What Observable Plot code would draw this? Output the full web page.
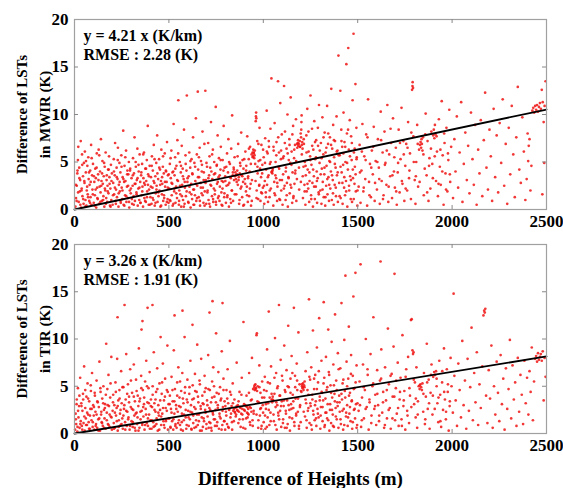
<!DOCTYPE html>
<html><head><meta charset="utf-8">
<script src="https://cdn.jsdelivr.net/npm/d3@7"></script>
<script src="https://cdn.jsdelivr.net/npm/@observablehq/plot@0.6"></script>
<style>
body{margin:0;background:#fff;}
#chart{width:563px;}
#chart svg{display:block;overflow:visible;}
</style></head><body><div id="chart"></div>
<script>
const xTicks=[0,500,1000,1500,2000,2500];
const yTicks=[0,5,10,15,20];
const bandNames=["MWIR","TIR"];
const slopes=[4.21,3.26];
const rmses=[2.28,1.91];
const xTitle="Difference of Heights (m)";

// MWIR panel points [height difference (m), LST difference (K)]
const mwir0=[[5,0.3],[8,1.2],[12,2.5],[15,3.8],[18,5.2],[20,6.6],[22,0.8],[25,4.4],[28,1.9],[30,3.1],[33,7.2],[35,0.2],[38,2.2],[40,5.8],[42,1.4],[45,3.5],[48,0.6],[50,4.9],[53,2.8],[55,6.1],[58,1.0],[60,3.9],[63,0.4],[65,2.0],[68,4.6],[70,1.6],[73,5.5],[75,3.2],[78,0.9],[80,2.6],[83,4.1],[85,1.3],[88,6.8],[90,0.5],[93,3.6],[95,2.1],[98,4.8],
[102,0.7],[105,2.9],[108,1.5],[110,4.3],[113,3.3],[115,0.2],[118,5.9],[120,2.3],[123,1.1],[125,3.7],[128,6.3],[130,0.6],[133,2.4],[135,4.0],[138,1.8],[140,7.4],[143,3.0],[145,0.9],[148,5.1],[150,2.7],[153,1.4],[155,3.5],[158,0.3],[160,4.5],[163,2.0],[165,6.0],[168,1.2],[170,3.1],[173,0.8],[175,2.5],[178,4.2],[180,1.7],[183,5.6],[185,3.4],[188,0.4],[190,2.2],[193,4.7],[195,1.0],[198,3.8],
[202,0.5],[205,2.8],[208,5.3],[210,1.6],[213,3.6],[215,7.0],[218,0.9],[220,2.1],[223,4.4],[225,1.3],[228,3.2],[230,6.5],[233,0.3],[235,2.6],[238,4.9],[240,1.9],[243,3.9],[245,0.7],[248,5.7],[250,2.3],[253,1.1],[255,3.4],[258,8.3],[260,0.5],[263,2.9],[265,4.6],[268,1.5],[270,3.0],[273,6.2],[275,0.8],[278,2.4],[280,4.1],[283,1.2],[285,3.7],[288,5.0],[290,0.2],[293,2.0],[295,4.3],[298,1.7],
[302,3.3],[305,0.6],[308,2.5],[310,5.4],[313,1.4],[315,3.8],[318,7.6],[320,0.9],[323,2.7],[325,4.5],[328,1.8],[330,3.1],[333,6.4],[335,0.4],[338,2.2],[340,4.0],[343,1.0],[345,5.8],[348,2.9],[350,0.7],[353,3.6],[355,1.5],[358,4.8],[360,2.4],[363,0.3],[365,3.3],[368,6.0],[370,1.2],[373,2.6],[375,4.3],[378,0.8],[380,3.0],[383,5.2],[385,1.9],[388,8.8],[390,3.7],[393,0.5],[395,2.1],[398,4.6],
[402,1.3],[405,3.4],[408,0.6],[410,5.6],[413,2.3],[415,4.1],[418,1.0],[420,6.8],[423,2.8],[425,0.4],[428,3.5],[430,1.7],[433,4.9],[435,2.5],[438,7.8],[440,0.8],[443,3.2],[445,1.4],[448,5.3],[450,2.0],[453,4.2],[455,0.3],[458,3.0],[460,6.3],[463,1.6],[465,2.7],[468,4.5],[470,0.9],[473,3.8],[475,1.2],[478,5.9],[480,2.4],[483,0.5],[485,4.0],[488,2.9],[490,7.1],[493,1.1],[495,3.6],[498,0.7]];
const mwir1=[[502,2.2],[505,4.8],[508,0.9],[510,3.3],[513,6.2],[515,1.5],[518,2.7],[520,0.4],[523,4.0],[525,9.0],[528,1.9],[530,3.6],[533,5.5],[535,0.7],[538,2.4],[540,4.6],[543,1.2],[545,7.3],[548,3.0],[550,11.5],[553,0.5],[555,2.0],[558,5.0],[560,1.6],[563,3.9],[565,0.3],[568,6.7],[570,2.6],[573,4.3],[575,1.0],[578,3.2],[580,8.4],[583,0.6],[585,2.3],[588,5.7],[590,1.4],[593,4.1],[595,12.0],[598,2.9],
[602,0.8],[605,3.5],[608,6.0],[610,1.8],[613,4.4],[615,0.2],[618,2.7],[620,5.3],[623,1.1],[625,3.7],[628,7.6],[630,0.5],[633,2.1],[635,4.9],[638,1.5],[640,3.0],[643,9.6],[645,0.9],[648,5.8],[650,2.5],[653,12.4],[655,4.2],[658,1.3],[660,3.4],[663,6.5],[665,0.4],[668,2.8],[670,5.1],[673,1.7],[675,4.7],[678,8.2],[680,2.3],[683,0.7],[685,3.9],[688,6.9],[690,1.9],[693,12.5],[695,3.1],[698,0.6],
[702,4.5],[705,2.0],[708,7.0],[710,1.0],[713,3.6],[715,5.6],[718,0.3],[720,2.6],[723,9.2],[725,4.0],[728,1.4],[730,3.2],[733,6.3],[735,0.8],[738,2.2],[740,5.0],[743,1.6],[745,3.8],[748,10.8],[750,0.5],[753,4.6],[755,2.7],[758,7.8],[760,1.2],[763,3.4],[765,5.4],[768,0.9],[770,2.4],[773,4.2],[775,6.6],[778,1.8],[780,3.0],[783,0.4],[785,5.2],[788,2.9],[790,8.8],[793,1.3],[795,4.4],[798,3.5],
[802,0.7],[805,2.5],[808,5.9],[810,1.5],[813,3.9],[815,7.4],[818,0.3],[820,2.8],[823,4.8],[825,1.1],[828,3.3],[830,6.4],[833,2.0],[835,9.9],[838,3.6],[840,0.9],[843,4.4],[845,3.1],[848,5.5],[850,3.5],[852,3.9],[855,3.2],[857,1.6],[860,3.7],[862,4.1],[865,2.6],[867,6.9],[870,3.4],[872,0.6],[875,3.8],[877,4.9],[880,2.2],[883,8.1],[885,3.6],[888,1.3],[890,5.2],[893,2.9],[895,4.3],[898,0.5],
[902,3.2],[905,6.1],[908,1.9],[910,4.6],[913,2.4],[915,7.7],[918,0.8],[920,3.5],[923,5.3],[925,1.4],[928,4.0],[930,6.6],[933,2.7],[935,0.4],[938,5.8],[940,3.1],[943,6.0],[945,5.6],[947,6.3],[950,5.9],[952,5.4],[955,6.2],[957,4.8],[960,9.3],[961,9.8],[962,10.2],[963,9.6],[965,2.0],[968,7.2],[970,3.8],[973,1.1],[975,5.1],[978,2.5],[980,8.6],[983,4.3],[985,0.9],[988,3.4],[990,6.8],[993,1.7],[995,4.7],[998,2.3]];
const mwir2=[[1002,5.5],[1005,0.6],[1008,3.0],[1010,7.5],[1013,1.8],[1015,4.2],[1018,10.4],[1020,2.6],[1023,5.9],[1025,0.8],[1028,3.6],[1030,6.6],[1033,1.3],[1035,4.8],[1038,8.5],[1040,2.2],[1043,13.8],[1045,4.0],[1048,3.8],[1050,4.3],[1053,0.4],[1055,6.2],[1058,2.9],[1060,9.1],[1063,1.5],[1065,5.0],[1068,3.3],[1070,7.1],[1073,0.9],[1075,2.4],[1078,13.5],[1080,4.5],[1083,6.0],[1085,1.1],[1088,3.1],[1090,11.2],[1093,5.3],[1095,2.0],[1098,7.9],
[1102,0.5],[1105,3.7],[1108,5.6],[1110,13.0],[1113,2.5],[1115,8.2],[1118,1.0],[1120,4.4],[1123,6.4],[1125,2.8],[1128,10.0],[1130,0.3],[1133,3.4],[1135,5.2],[1138,7.4],[1140,1.7],[1143,4.9],[1145,11.8],[1148,2.3],[1150,6.1],[1153,0.7],[1155,3.9],[1158,8.8],[1160,1.4],[1163,5.4],[1165,2.7],[1168,6.8],[1170,4.1],[1173,9.5],[1175,0.9],[1178,3.2],[1180,6.5],[1183,7.0],[1185,6.7],[1188,6.9],[1190,2.1],[1193,7.2],[1195,6.6],[1198,8.0],
[1200,7.6],[1201,8.4],[1202,9.2],[1203,9.9],[1204,6.8],[1206,7.1],[1208,6.4],[1210,1.2],[1213,4.5],[1215,6.9],[1218,2.6],[1220,5.0],[1223,0.5],[1225,3.6],[1228,7.8],[1230,1.9],[1233,10.6],[1235,4.2],[1238,2.2],[1240,6.1],[1243,0.8],[1245,3.0],[1248,5.6],[1250,12.0],[1253,1.5],[1255,4.7],[1258,8.5],[1260,2.8],[1263,0.3],[1265,6.3],[1268,3.5],[1270,9.3],[1273,1.1],[1275,5.3],[1278,2.4],[1280,7.3],[1283,4.0],[1285,0.7],[1288,3.3],[1290,6.7],[1293,1.8],[1295,11.0],[1298,4.9],
[1302,2.0],[1305,7.0],[1308,0.6],[1310,4.3],[1313,9.7],[1315,2.9],[1318,5.8],[1320,1.3],[1323,3.7],[1325,8.1],[1328,0.4],[1330,6.0],[1333,2.5],[1335,4.6],[1338,10.9],[1340,1.6],[1343,6.9],[1345,3.4],[1348,0.9],[1350,5.1],[1353,7.6],[1355,2.2],[1358,4.0],[1360,12.7],[1363,1.0],[1365,6.4],[1368,3.1],[1370,8.9],[1373,0.5],[1375,5.5],[1378,2.6],[1380,7.2],[1383,4.4],[1385,1.4],[1388,9.8],[1390,3.6],[1393,6.2],[1395,0.8],[1398,16.2],
[1402,2.8],[1405,5.7],[1408,12.5],[1410,1.2],[1413,8.4],[1415,3.9],[1418,6.6],[1420,0.6],[1423,4.7],[1425,10.2],[1428,2.3],[1430,7.1],[1433,1.5],[1435,5.0],[1438,3.0],[1440,15.3],[1443,8.0],[1445,0.3],[1448,4.2],[1450,17.0],[1453,6.3],[1455,2.0],[1458,9.4],[1460,3.5],[1463,1.1],[1465,7.7],[1468,5.2],[1470,0.8],[1473,11.5],[1475,3.3],[1478,18.5],[1480,6.0],[1483,2.7],[1485,4.5],[1488,13.2],[1490,1.9],[1493,8.6],[1495,5.5],[1498,0.4]];
const mwir3=[[1505,2.4],[1510,6.8],[1515,0.7],[1520,4.1],[1525,9.0],[1530,1.9],[1535,5.6],[1540,3.2],[1545,7.9],[1550,0.4],[1555,11.6],[1560,2.9],[1565,4.8],[1570,1.3],[1575,6.2],[1580,3.7],[1585,8.7],[1590,0.9],[1595,5.1],
[1602,2.1],[1607,7.4],[1612,4.4],[1617,0.6],[1622,10.3],[1627,3.0],[1632,6.0],[1637,1.5],[1642,8.2],[1647,4.9],[1652,2.6],[1657,11.0],[1662,0.8],[1667,5.8],[1672,3.5],[1677,7.0],[1682,1.2],[1687,9.6],[1692,4.0],[1697,2.3],
[1702,6.5],[1707,0.5],[1712,3.9],[1717,8.4],[1722,1.8],[1727,5.3],[1732,10.7],[1737,2.7],[1742,7.2],[1747,0.9],[1752,4.6],[1757,6.9],[1762,2.0],[1767,9.2],[1772,3.3],[1777,5.9],[1782,1.1],[1788,12.6],[1790,13.0],[1791,13.4],[1793,12.8],[1795,7.7],
[1802,3.1],[1806,0.6],[1810,5.0],[1815,8.9],[1820,2.4],[1825,6.3],[1830,6.8],[1833,7.1],[1836,6.5],[1838,7.4],[1840,6.9],[1843,6.2],[1846,7.6],[1850,1.5],[1855,4.3],[1860,10.1],[1865,3.6],[1870,7.2],[1875,0.9],[1880,5.4],[1885,2.2],[1890,8.2],[1895,4.8],
[1900,7.8],[1903,8.4],[1906,7.5],[1909,8.9],[1912,7.9],[1915,3.0],[1920,6.1],[1925,1.4],[1930,9.5],[1935,4.5],[1940,2.6],[1945,11.4],[1950,5.7],[1955,0.5],[1960,7.0],[1965,3.8],[1970,8.6],[1975,1.9],[1980,5.2],[1985,10.5],[1990,2.9],[1995,6.6]];
const mwir4=[[2005,1.2],[2012,7.4],[2018,4.0],[2025,9.8],[2032,2.3],[2040,6.0],[2048,11.3],[2055,0.8],[2062,4.8],[2070,8.1],[2078,3.1],[2085,6.7],[2092,1.7],[2100,10.2],[2108,5.3],[2115,2.6],[2122,8.9],[2130,0.5],[2138,6.3],[2145,3.8],[2152,9.4],[2160,1.4],[2168,7.3],[2175,12.3],[2182,4.4],[2190,2.1],[2198,8.4],[2205,5.6],[2212,0.9],[2220,10.6],[2228,3.4],[2236,7.8],[2244,1.8],[2252,9.1],[2260,4.9],[2268,11.6],[2276,2.5],[2284,6.9],[2292,0.6],[2300,8.6],[2308,3.7],[2316,10.9],[2324,5.8],[2332,1.3],[2340,7.6],[2348,12.9],[2356,4.2],[2364,2.8],[2372,9.7],[2380,6.1],[2388,1.0],[2395,3.2],[2400,8.0],[2403,5.1],[2406,6.7],[2410,7.4],[2415,2.0],[2420,4.6],[2425,10.4],[2430,10.7],[2435,10.2],[2440,10.9],[2445,10.5],[2450,11.0],[2455,10.3],[2460,10.8],[2465,11.2],[2470,10.6],[2475,12.6],[2480,11.3],[2485,9.2],[2490,10.9],[2495,13.5],[2478,1.6],[2488,4.9]];
const mwirCore=[[7,2.6],[11,0.9],[16,4.1],[19,1.8],[26,3.3],[31,0.5],[37,2.0],[41,4.7],[46,1.1],[52,3.0],[57,0.3],[61,5.1],[67,2.4],[72,1.3],[77,3.9],[82,0.7],[86,2.9],[91,5.4],[97,1.6],
[103,3.5],[107,0.4],[112,2.1],[117,4.4],[121,1.2],[127,3.1],[131,5.7],[137,0.8],[142,2.5],[146,3.8],[152,1.0],[157,4.9],[161,2.2],[166,0.6],[171,3.6],[176,1.9],[181,4.2],[186,2.7],[191,0.3],[196,3.0],
[204,1.5],[209,4.0],[214,2.3],[219,0.6],[224,3.4],[229,5.2],[234,1.7],[239,2.9],[244,0.9],[249,4.5],[254,2.0],[259,3.2],[264,0.4],[269,5.5],[274,1.4],[279,3.7],[284,2.5],[289,0.8],[294,4.1],[299,2.2],
[304,1.1],[309,3.6],[314,0.5],[319,2.7],[324,5.0],[329,1.6],[334,3.3],[339,4.7],[344,2.3],[349,0.7],[354,3.9],[359,1.9],[364,5.8],[369,2.8],[374,0.9],[379,4.3],[384,1.3],[389,2.6],[394,3.5],[399,0.5],
[404,2.4],[409,4.6],[414,1.2],[419,3.0],[424,5.3],[429,0.7],[434,2.1],[439,3.8],[444,1.8],[449,4.4],[454,2.6],[459,0.4],[464,3.4],[469,5.6],[474,1.5],[479,2.9],[484,4.1],[489,0.8],[494,2.3],[499,3.7],
[504,1.0],[509,5.4],[514,2.8],[519,3.9],[524,0.6],[529,2.2],[534,4.3],[539,1.7],[544,3.1],[549,5.9],[554,0.9],[559,2.5],[564,4.6],[569,1.4],[574,3.5],[579,0.3],[584,2.9],[589,4.8],[594,1.9],[599,3.3],
[604,0.7],[609,2.4],[614,5.1],[619,1.6],[624,3.8],[629,2.1],[634,0.5],[639,4.5],[644,2.7],[649,1.2],[654,3.4],[659,5.5],[664,0.9],[669,2.3],[674,4.0],[679,1.5],[684,3.1],[689,0.4],[694,2.8],[699,4.9],
[704,1.8],[709,3.3],[714,0.6],[719,4.4],[724,2.5],[729,5.8],[734,1.1],[739,3.7],[744,2.0],[749,0.8],[754,4.7],[759,2.9],[764,1.4],[769,3.6],[774,5.2],[779,0.5],[784,2.2],[789,4.1],[794,1.7],[799,3.0],
[804,4.5],[809,1.3],[814,2.6],[819,5.0],[824,3.4],[829,0.7],[834,2.0],[839,3.9],[844,4.2],[849,1.6],[854,3.6],[859,2.9],[864,5.6],[869,3.1],[874,1.0],[879,4.6],[884,2.4],[889,3.5],[894,0.4],[899,5.3],
[904,2.7],[909,4.1],[914,1.5],[919,3.3],[924,6.4],[929,2.2],[934,4.8],[939,0.9],[944,5.5],[949,6.0],[954,5.7],[959,3.0],[964,1.2],[969,4.5],[974,6.9],[979,2.6],[984,5.2],[989,1.8],[994,3.8],[999,6.3],
[1004,2.5],[1009,4.9],[1014,1.3],[1019,6.1],[1024,3.4],[1029,7.2],[1034,2.0],[1039,5.0],[1044,3.9],[1049,4.1],[1054,6.6],[1059,1.7],[1064,3.6],[1069,5.7],[1074,2.8],[1079,7.6],[1084,4.3],[1089,1.0],[1094,6.2],[1099,3.1],
[1104,5.4],[1109,2.2],[1114,7.0],[1119,4.0],[1124,1.5],[1129,5.9],[1134,3.3],[1139,6.8],[1144,2.6],[1149,4.7],[1154,7.9],[1159,1.2],[1164,6.3],[1169,3.8],[1174,5.1],[1179,6.9],[1184,7.3],[1189,4.4],[1194,6.6],[1199,2.9],
[1204,5.8],[1209,3.5],[1214,7.4],[1219,1.9],[1224,4.6],[1229,6.0],[1234,2.7],[1239,8.2],[1244,3.9],[1249,5.2],[1254,1.1],[1259,6.7],[1264,4.2],[1269,2.4],[1274,7.1],[1279,5.5],[1284,3.0],[1289,8.6],[1294,1.6],[1299,6.2],
[1304,3.7],[1309,5.4],[1314,2.1],[1319,7.6],[1324,4.4],[1329,1.3],[1334,6.5],[1339,3.2],[1344,8.0],[1349,2.6],[1354,5.0],[1359,6.8],[1364,3.6],[1369,1.7],[1374,7.3],[1379,4.8],[1384,2.3],[1389,6.1],[1394,3.9],[1399,5.7],
[1404,1.4],[1409,4.5],[1414,7.2],[1419,2.8],[1424,5.9],[1429,3.4],[1434,6.6],[1439,1.9],[1444,4.9],[1449,8.4],[1454,2.5],[1459,5.6],[1464,3.1],[1469,7.0],[1474,4.2],[1479,1.1],[1484,6.4],[1489,3.7],[1494,5.3],[1499,2.0],
[1512,3.9],[1522,6.1],[1532,2.3],[1542,5.2],[1552,7.6],[1562,1.5],[1572,4.4],[1582,6.6],[1592,2.8],[1604,5.0],[1614,3.2],[1624,7.3],[1634,1.1],[1644,4.7],[1654,6.2],[1664,2.4],[1674,8.5],[1684,3.6],[1694,5.5],[1704,1.9],[1714,4.9],[1724,7.0],[1734,3.0],[1744,5.8],[1754,2.2],[1764,6.5],[1774,4.1],[1784,8.1],[1797,5.0],[1808,3.5],[1818,6.9],[1828,2.9],[1848,5.8],[1858,7.9],[1868,1.8],[1878,4.6],[1888,6.4],[1898,3.3],[1908,5.6],[1918,7.7],[1928,2.7],[1938,6.3],[1948,4.0],[1958,8.0],[1968,2.1],[1978,5.9],[1988,3.7]];

// TIR panel points
const tir0=[[3,0.4],[6,2.1],[9,1.0],[12,3.6],[15,0.2],[18,4.8],[21,1.7],[24,2.9],[27,0.6],[30,5.9],[33,1.3],[36,3.2],[39,0.8],[42,2.4],[45,4.2],[48,1.1],[51,7.1],[54,0.3],[57,2.7],[60,1.6],[63,3.9],[66,0.9],[69,5.3],[72,2.0],[75,1.2],[78,3.4],[81,0.5],[84,2.6],[87,4.5],[90,1.4],[93,6.4],[96,0.7],[99,3.0],
[102,1.9],[105,0.4],[108,4.0],[111,2.3],[114,1.0],[117,5.6],[120,0.6],[123,3.3],[126,1.5],[129,2.8],[132,7.6],[135,0.3],[138,4.4],[141,2.0],[144,1.2],[147,3.7],[150,0.8],[153,5.0],[156,2.5],[159,1.6],[162,3.1],[165,0.5],[168,9.5],[171,2.2],[174,4.7],[177,1.0],[180,6.2],[183,2.9],[186,0.7],[189,3.8],[192,1.8],[195,8.1],[198,0.4],
[202,2.4],[205,4.1],[208,1.1],[211,3.0],[214,0.6],[217,5.4],[220,1.9],[223,2.7],[226,7.9],[228,12.3],[229,0.3],[232,3.5],[235,1.4],[238,4.6],[241,2.1],[244,0.9],[247,6.6],[250,3.2],[253,1.6],[256,0.5],[259,4.9],[262,2.6],[265,13.6],[268,1.2],[271,3.6],[274,8.4],[277,0.8],[280,2.3],[283,5.2],[286,1.7],[289,3.9],[292,0.4],[295,6.8],[298,2.8],
[302,1.3],[305,4.3],[308,0.7],[311,2.5],[314,7.3],[317,1.9],[320,3.4],[323,0.3],[326,5.7],[329,2.2],[332,1.0],[335,4.0],[338,2.9],[341,9.0],[344,0.6],[347,3.7],[350,1.5],[353,6.1],[355,11.0],[356,2.4],[359,0.9],[360,11.9],[362,4.6],[365,1.8],[368,3.1],[371,0.4],[374,5.5],[377,2.6],[380,7.7],[383,1.1],[386,3.3],[387,13.3],[389,0.8],[392,4.8],[395,2.0],[398,6.5],
[402,1.4],[405,3.6],[408,0.5],[411,2.8],[413,13.6],[414,5.0],[417,1.2],[420,8.6],[423,3.2],[426,0.8],[429,2.3],[432,4.4],[435,1.6],[438,6.9],[441,0.3],[444,3.0],[447,1.9],[450,5.3],[453,2.5],[456,10.2],[459,0.9],[462,4.2],[465,2.1],[468,7.4],[471,1.3],[474,3.5],[477,0.6],[480,5.8],[483,2.7],[486,1.5],[489,4.6],[492,9.3],[495,0.4],[498,3.1]];
const tir1=[[502,1.6],[505,4.0],[508,0.7],[511,2.6],[514,6.0],[517,1.3],[520,3.4],[523,0.4],[526,8.8],[529,2.1],[530,12.5],[532,4.7],[535,1.0],[538,3.0],[541,0.6],[544,5.4],[547,2.3],[550,7.0],[553,1.4],[556,3.8],[559,0.9],[562,2.8],[565,4.5],[568,1.2],[571,6.4],[572,13.0],[574,0.3],[577,3.2],[580,2.0],[583,10.2],[586,4.9],[589,1.7],[592,0.5],[595,3.6],[598,5.7],
[602,2.4],[605,0.8],[608,4.2],[611,1.5],[614,7.7],[617,3.0],[620,0.4],[623,2.2],[625,11.5],[626,5.1],[629,1.1],[632,3.7],[635,0.6],[638,6.3],[641,2.6],[644,1.4],[647,4.4],[650,9.4],[653,0.9],[656,3.3],[659,2.0],[662,5.6],[665,0.3],[668,2.9],[671,7.9],[674,1.7],[677,4.0],[680,0.7],[683,3.1],[686,1.3],[689,6.1],[692,2.5],[695,4.8],[698,0.5],
[702,3.5],[705,1.8],[708,8.3],[711,0.6],[714,2.7],[715,12.8],[717,4.6],[720,1.1],[723,3.3],[726,0.3],[729,5.5],[731,14.0],[732,2.2],[735,7.0],[738,1.5],[741,3.9],[744,0.8],[747,2.5],[750,10.6],[753,4.3],[756,1.2],[759,3.0],[762,6.5],[765,0.5],[768,2.1],[771,4.9],[774,1.6],[777,3.7],[780,8.7],[783,0.9],[784,13.8],[786,2.8],[789,5.8],[792,1.3],[795,3.4],[798,0.4],
[802,2.3],[805,4.6],[808,1.0],[811,6.8],[814,3.2],[817,0.6],[820,2.6],[823,9.8],[826,1.7],[829,4.1],[832,2.9],[835,0.4],[838,5.3],[841,2.4],[844,1.3],[847,3.6],[850,2.2],[853,2.7],[856,2.0],[859,7.5],[862,2.5],[865,3.0],[868,1.1],[871,2.3],[874,4.4],[877,2.8],[880,0.7],[883,2.1],[886,5.9],[889,2.6],[892,1.5],[895,11.8],[898,3.1],
[902,2.4],[905,0.5],[908,2.9],[911,4.0],[914,2.2],[917,1.7],[920,2.6],[922,2.0],[925,6.4],[928,2.8],[931,0.9],[934,3.5],[937,2.3],[940,8.0],[943,1.4],[946,4.7],[949,2.1],[952,4.9],[955,4.6],[958,5.2],[961,4.8],[964,10.4],[966,10.6],[967,4.5],[970,5.0],[973,0.6],[976,3.3],[979,7.2],[982,1.9],[985,4.3],[988,2.7],[991,0.8],[994,5.5],[997,3.0]];
const tir2=[[1002,1.2],[1005,3.8],[1008,6.0],[1011,0.5],[1014,2.6],[1017,4.5],[1020,8.9],[1023,1.7],[1026,3.2],[1029,12.9],[1032,0.9],[1035,5.3],[1038,2.2],[1041,7.1],[1044,3.6],[1047,3.3],[1050,3.9],[1053,3.5],[1056,1.3],[1059,4.2],[1062,10.1],[1065,2.8],[1068,6.4],[1071,0.4],[1074,3.0],[1077,5.0],[1080,1.9],[1083,13.6],[1086,4.0],[1089,2.4],[1092,7.8],[1095,0.7],[1098,3.4],
[1102,5.6],[1105,1.5],[1108,2.9],[1111,9.3],[1114,0.6],[1117,4.4],[1120,2.1],[1123,6.7],[1126,3.5],[1129,1.0],[1132,11.4],[1135,4.9],[1138,2.5],[1141,0.3],[1144,5.8],[1147,3.1],[1150,8.2],[1153,1.6],[1156,4.1],[1159,2.7],[1162,13.3],[1165,0.8],[1168,6.1],[1171,3.7],[1174,1.9],[1177,7.4],[1180,4.6],[1183,2.3],[1186,10.7],[1189,0.5],[1192,5.2],[1195,3.0],[1198,1.2],
[1202,4.4],[1205,5.0],[1208,4.8],[1210,5.3],[1213,4.6],[1216,5.1],[1218,4.9],[1221,1.8],[1224,6.6],[1227,3.2],[1230,0.6],[1233,8.6],[1236,2.4],[1239,4.1],[1242,14.2],[1245,1.1],[1248,5.7],[1251,2.9],[1254,7.0],[1257,0.4],[1260,3.6],[1263,10.9],[1266,2.0],[1269,4.7],[1272,1.4],[1275,6.2],[1278,3.4],[1281,0.8],[1284,9.1],[1287,2.6],[1290,5.4],[1293,1.7],[1296,12.2],[1299,3.9],
[1302,0.5],[1305,2.8],[1308,7.7],[1311,4.3],[1314,1.3],[1317,3.5],[1320,13.9],[1323,5.9],[1326,0.9],[1329,2.2],[1332,8.1],[1335,4.6],[1338,1.6],[1341,3.1],[1344,11.0],[1347,6.5],[1350,0.3],[1353,2.5],[1356,5.1],[1359,1.1],[1362,9.7],[1365,3.8],[1368,2.0],[1371,7.3],[1374,0.7],[1377,4.2],[1380,12.6],[1383,2.7],[1386,5.6],[1389,1.5],[1392,3.3],[1395,8.5],[1398,0.6],
[1402,4.0],[1405,2.3],[1408,6.9],[1411,1.0],[1414,13.8],[1417,3.6],[1420,5.3],[1423,0.4],[1426,2.6],[1429,9.9],[1432,4.5],[1435,16.7],[1438,1.8],[1441,7.6],[1444,3.0],[1447,0.8],[1450,5.8],[1453,11.3],[1456,2.1],[1459,4.3],[1462,1.3],[1465,8.3],[1468,3.4],[1471,0.5],[1474,6.1],[1477,14.5],[1480,2.5],[1483,4.8],[1486,1.6],[1488,17.0],[1491,3.1],[1494,7.2],[1497,0.9]];
const tir3=[[1505,2.4],[1510,5.5],[1515,17.9],[1518,0.7],[1523,3.8],[1528,7.3],[1533,1.6],[1538,4.6],[1543,10.0],[1548,2.8],[1553,6.2],[1558,0.4],[1563,3.3],[1568,8.4],[1573,1.9],[1578,5.0],[1583,12.3],[1588,2.6],[1593,4.1],[1598,0.9],
[1603,6.7],[1608,3.0],[1613,1.3],[1618,5.6],[1621,18.2],[1625,8.9],[1630,2.2],[1635,4.4],[1640,0.6],[1645,7.0],[1650,3.5],[1655,1.6],[1660,11.1],[1665,5.2],[1670,2.7],[1675,0.5],[1680,6.3],[1685,3.9],[1690,9.2],[1695,16.9],[1698,1.4],
[1702,4.8],[1707,2.1],[1712,7.5],[1717,0.8],[1722,3.6],[1727,5.9],[1732,1.5],[1737,10.4],[1742,2.9],[1747,4.5],[1752,0.4],[1757,6.8],[1762,2.4],[1767,8.1],[1772,1.1],[1777,4.0],[1782,12.0],[1786,12.1],[1790,8.8],[1793,8.4],[1796,8.6],[1799,3.1],
[1803,5.4],[1807,1.7],[1811,7.0],[1815,0.6],[1819,3.4],[1823,5.0],[1828,4.7],[1832,5.2],[1836,4.9],[1840,4.6],[1843,5.3],[1847,2.3],[1851,6.4],[1856,1.0],[1861,3.9],[1866,9.5],[1871,2.6],[1876,5.7],[1881,0.5],[1886,4.3],[1891,7.3],[1896,2.0],
[1900,6.0],[1905,6.5],[1910,6.2],[1915,6.6],[1918,5.8],[1922,3.2],[1927,1.2],[1932,7.7],[1937,4.1],[1942,0.7],[1947,5.4],[1952,2.5],[1957,9.0],[1962,3.6],[1967,1.5],[1972,6.8],[1977,4.4],[1982,0.3],[1987,2.9],[1992,8.0],[1997,5.0]];
const tir4=[[2004,2.2],[2008,14.8],[2012,6.1],[2019,3.5],[2026,0.8],[2033,7.4],[2040,4.6],[2047,1.7],[2054,9.8],[2061,3.0],[2068,5.6],[2075,0.5],[2082,7.9],[2089,2.4],[2096,4.9],[2103,11.2],[2110,1.4],[2117,6.4],[2124,3.3],[2131,8.6],[2138,0.9],[2145,5.2],[2152,2.7],[2160,7.1],[2166,12.5],[2170,13.0],[2173,12.8],[2176,13.2],[2180,4.0],[2187,1.1],[2194,6.7],[2201,3.7],[2208,9.3],[2215,0.6],[2222,5.0],[2229,2.0],[2236,7.6],[2243,4.3],[2250,1.3],[2257,8.3],[2264,3.1],[2271,5.8],[2278,0.4],[2285,6.9],[2292,2.6],[2299,4.7],[2306,9.9],[2313,1.6],[2320,7.2],[2327,3.6],[2334,5.4],[2341,0.8],[2348,8.0],[2355,2.3],[2362,6.2],[2369,4.1],[2376,1.0],[2383,7.7],[2390,3.2],[2397,5.9],[2404,2.0],[2410,6.6],[2416,4.4],[2422,9.1],[2428,1.4],[2434,5.5],[2440,7.9],[2445,8.2],[2450,7.6],[2455,8.5],[2460,7.8],[2465,8.1],[2470,8.4],[2475,7.7],[2480,8.7],[2485,3.5],[2490,8.0],[2495,6.0]];
const tirCore=[[7,1.5],[11,3.1],[16,0.7],[19,2.4],[26,4.0],[31,1.0],[37,2.9],[41,0.4],[46,3.6],[52,1.8],[57,4.6],[61,0.9],[67,2.2],[72,3.7],[77,0.5],[82,1.9],[86,5.1],[91,2.6],[97,1.2],
[103,2.8],[107,4.3],[112,0.8],[117,2.0],[121,3.4],[127,0.3],[131,1.6],[137,4.8],[142,2.3],[146,1.1],[152,3.2],[157,0.6],[161,2.7],[166,4.1],[171,1.4],[176,3.0],[181,0.9],[186,2.0],[191,5.3],[196,1.7],
[204,3.3],[209,0.5],[214,2.2],[219,4.4],[224,1.3],[229,2.9],[234,0.7],[239,3.7],[244,2.5],[249,1.0],[254,4.9],[259,1.9],[264,3.0],[269,0.4],[274,2.4],[279,4.2],[284,1.5],[289,3.3],[294,0.8],[299,5.6],
[304,2.6],[309,1.2],[314,3.9],[319,0.6],[324,2.1],[329,4.5],[334,1.7],[339,0.3],[344,3.4],[349,2.3],[354,4.8],[359,1.1],[364,2.8],[369,3.8],[374,0.9],[379,2.0],[384,5.0],[389,1.6],[394,3.2],[399,0.5],
[404,2.9],[409,1.4],[414,4.1],[419,0.7],[424,2.5],[429,3.6],[434,1.0],[439,4.7],[444,2.2],[449,0.4],[454,3.5],[459,1.8],[464,5.4],[469,2.7],[474,0.9],[479,3.9],[484,1.3],[489,2.4],[494,4.4],[499,1.6],
[504,3.1],[509,0.6],[514,2.2],[519,4.6],[524,1.5],[529,3.4],[534,0.8],[539,2.6],[544,4.0],[549,1.1],[554,2.9],[559,5.5],[564,0.4],[569,2.1],[574,3.7],[579,1.4],[584,4.3],[589,2.5],[594,0.9],[599,3.3],
[604,1.7],[609,4.9],[614,2.3],[619,0.5],[624,3.6],[629,1.9],[634,2.8],[639,4.5],[644,0.7],[649,2.0],[654,3.9],[659,1.3],[664,5.2],[669,2.6],[674,0.3],[679,3.2],[684,1.6],[689,4.4],[694,2.2],[699,1.0],
[704,3.0],[709,4.7],[714,1.2],[719,2.5],[724,0.6],[729,3.8],[734,2.0],[739,5.0],[744,1.5],[749,3.3],[754,0.8],[759,2.7],[764,4.2],[769,1.8],[774,3.5],[779,0.4],[784,2.4],[789,4.6],[794,1.3],[799,2.9],
[804,1.9],[809,3.7],[814,0.7],[819,2.5],[824,4.4],[829,2.1],[834,1.2],[839,3.2],[844,2.6],[849,2.3],[854,1.8],[859,2.9],[864,2.4],[869,3.4],[874,1.5],[879,2.7],[884,4.1],[889,2.0],[894,0.6],[899,2.5],
[904,3.0],[909,1.6],[914,2.8],[919,2.1],[924,4.3],[929,1.2],[934,2.7],[939,3.6],[944,0.8],[949,2.4],[954,5.1],[959,4.7],[964,2.0],[969,3.4],[974,1.4],[979,4.9],[984,2.6],[989,0.5],[994,3.8],[999,2.2],
[1004,4.6],[1009,1.9],[1014,3.1],[1019,0.7],[1024,5.4],[1029,2.5],[1034,3.8],[1039,1.3],[1044,4.2],[1049,3.6],[1054,2.0],[1059,5.9],[1064,0.9],[1069,3.3],[1074,4.8],[1079,2.2],[1084,1.5],[1089,4.0],[1094,2.9],[1099,6.1],
[1104,1.1],[1109,3.5],[1114,4.6],[1119,2.4],[1124,0.6],[1129,5.0],[1134,3.0],[1139,1.7],[1144,4.3],[1149,2.6],[1154,6.4],[1159,3.4],[1164,1.2],[1169,4.9],[1174,2.1],[1179,5.6],[1184,3.7],[1189,0.8],[1194,2.8],[1199,4.5],
[1204,5.2],[1209,4.9],[1214,2.3],[1219,5.5],[1224,3.6],[1229,1.4],[1234,4.6],[1239,2.7],[1244,6.0],[1249,3.2],[1254,0.9],[1259,4.1],[1264,2.4],[1269,5.8],[1274,3.0],[1279,1.6],[1284,4.7],[1289,2.1],[1294,6.6],[1299,3.5],
[1304,1.9],[1309,4.4],[1314,2.8],[1319,5.3],[1324,0.7],[1329,3.7],[1334,2.2],[1339,4.9],[1344,1.4],[1349,6.2],[1354,3.1],[1359,4.3],[1364,2.5],[1369,0.8],[1374,5.1],[1379,3.4],[1384,1.8],[1389,4.6],[1394,2.9],[1399,6.8],
[1404,3.3],[1409,1.5],[1414,4.2],[1419,2.4],[1424,5.7],[1429,0.9],[1434,3.8],[1439,2.2],[1444,5.0],[1449,1.7],[1454,4.0],[1459,2.8],[1464,6.3],[1469,3.5],[1474,1.2],[1479,4.7],[1484,2.6],[1489,5.4],[1494,0.6],[1499,3.2],
[1512,3.0],[1522,1.4],[1532,4.9],[1542,2.6],[1552,6.8],[1562,3.6],[1572,1.1],[1582,5.3],[1592,2.9],[1604,4.2],[1614,1.9],[1624,5.8],[1634,3.3],[1644,0.9],[1654,4.6],[1664,2.5],[1674,6.1],[1684,1.6],[1694,3.9],[1704,5.6],[1714,2.7],[1724,4.4],[1734,0.8],[1744,3.5],[1754,6.0],[1764,1.9],[1774,4.8],[1784,2.8],[1797,5.7],[1808,3.7],[1818,2.0],[1828,5.1],[1848,4.2],[1858,1.5],[1868,5.4],[1878,3.2],[1888,6.2],[1898,4.0],[1908,2.6],[1918,5.0],[1928,3.8],[1938,1.3],[1948,6.6],[1958,4.4],[1968,2.3],[1978,5.2],[1988,3.4]];

const panels=[[...mwir0,...mwir1,...mwir2,...mwir3,...mwir4,...mwirCore],[...tir0,...tir1,...tir2,...tir3,...tir4,...tirCore]];

const FONT="'Liberation Serif','Times New Roman',Times,serif";
const W=563, ML=74, MR=17;

function panel(k,{height,marginTop,marginBottom,showTitle}){
  const ih=height-marginTop-marginBottom, iw=W-ML-MR;
  const data=panels[k].map(([x,y])=>({x,y}));
  const ends=[xTicks[0],xTicks[xTicks.length-1]];
  const fit=ends.map(x=>({x,y:slopes[k]*x/1000}));
  const tf={fontFamily:FONT,fontWeight:"bold"};
  const marks=[
    Plot.dot(data,{x:"x",y:"y",r:1.35,fill:"#f01414",fillOpacity:0.85}),
    Plot.line(fit,{x:"x",y:"y",stroke:"#000",strokeWidth:1.8}),
    Plot.frame({stroke:"#a0a0a0",strokeWidth:1.2}),
    Plot.tickX(xTicks.slice(1,-1),{x:d=>d,insetTop:ih-4,stroke:"#888"}),
    Plot.tickX(xTicks.slice(1,-1),{x:d=>d,insetBottom:ih-4,stroke:"#888"}),
    Plot.tickY(yTicks.slice(1,-1),{y:d=>d,insetRight:iw-4,stroke:"#888"}),
    Plot.tickY(yTicks.slice(1,-1),{y:d=>d,insetLeft:iw-4,stroke:"#888"}),
    Plot.axisX(xTicks,{tickSize:0,tickPadding:5,fontSize:17,...tf,tickFormat:d=>String(d),label:null}),
    Plot.axisY(yTicks,{tickSize:0,tickPadding:6,fontSize:17,...tf,tickFormat:d=>String(d),label:null}),
    Plot.text([`y = ${slopes[k]} x (K/km)\nRMSE : ${rmses[k]} (K)`],{frameAnchor:"top-left",dx:9,dy:8,textAnchor:"start",lineAnchor:"top",lineHeight:1.2,fontSize:16,...tf}),
    Plot.text([`Difference of LSTs\nin ${bandNames[k]} (K)`],{frameAnchor:"left",rotate:-90,dx:-43,textAnchor:"middle",lineAnchor:"middle",fontSize:15,lineHeight:1.5,...tf})
  ];
  if(showTitle) marks.push(Plot.text([xTitle],{frameAnchor:"bottom",dx:-10,dy:45,lineAnchor:"middle",fontSize:19,...tf}));
  return Plot.plot({
    width:W,height,marginTop,marginBottom,marginLeft:ML,marginRight:MR,
    x:{domain:[0,2500]},y:{domain:[0,20]},
    style:{fontFamily:FONT,background:"#fff",color:"#000",overflow:"visible"},
    marks
  });
}
const root=document.getElementById("chart");
root.appendChild(panel(0,{height:234,marginTop:19,marginBottom:25,showTitle:false}));
root.appendChild(panel(1,{height:254,marginTop:10,marginBottom:55,showTitle:true}));
</script></body></html>
